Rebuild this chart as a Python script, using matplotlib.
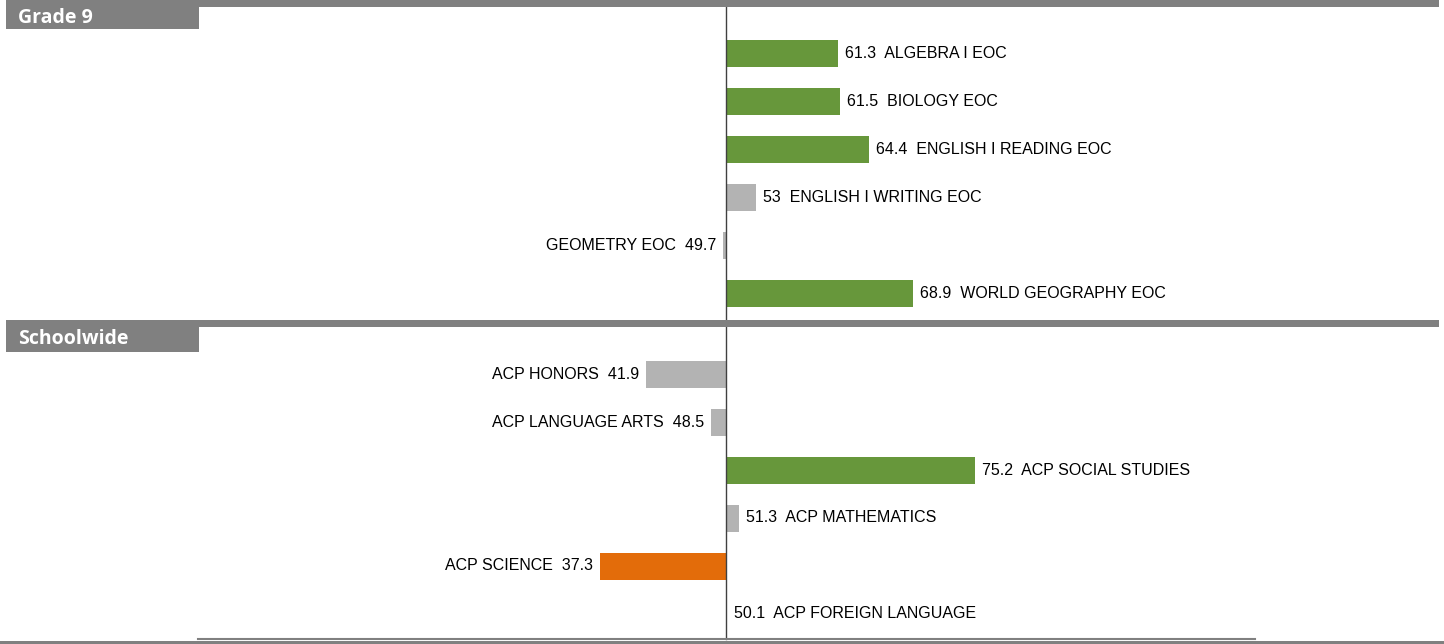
import matplotlib.pyplot as plt
from matplotlib.patches import Rectangle

# data
grade9_labels = ["ALGEBRA I EOC", "BIOLOGY EOC", "ENGLISH I READING EOC",
                 "ENGLISH I WRITING EOC", "GEOMETRY EOC", "WORLD GEOGRAPHY EOC"]
grade9_values = [61.3, 61.5, 64.4, 53, 49.7, 68.9]
grade9_colors = ["#67973b", "#67973b", "#67973b", "#b3b3b3", "#b3b3b3", "#67973b"]

school_labels = ["ACP HONORS", "ACP LANGUAGE ARTS", "ACP SOCIAL STUDIES",
                 "ACP MATHEMATICS", "ACP SCIENCE", "ACP FOREIGN LANGUAGE"]
school_values = [41.9, 48.5, 75.2, 51.3, 37.3, 50.1]
school_colors = ["#b3b3b3", "#b3b3b3", "#67973b", "#b3b3b3", "#e36c0a", "#b3b3b3"]

center = 50
W, H = 1444, 644
fig = plt.figure(figsize=(W / 100, H / 100), dpi=100)
plt.rcParams['font.family'] = ['Liberation Sans', 'DejaVu Sans']

# axes spans from x=198 to 1255 px, full height in px units for rows
ax = fig.add_axes([198 / W, 0, (1255 - 198) / W, 1])
px = 9.9  # pixels per unit
ax.set_xlim(center - (726 - 198) / px, center + (1255 - 726) / px)
ax.set_ylim(H, 0)
ax.axis('off')

rows9 = [53 + 48 * i for i in range(6)]
rows_s = [374 + 48 * i for i in range(6)]
gap = 7 / px


def draw(labels, values, colors, rows):
    for lab, v, c, y in zip(labels, values, colors, rows):
        ax.barh(y, v - center, left=center, height=27, color=c)
        val = f"{v:g}"
        if v >= center:
            ax.text(v + gap, y, f"{val}  {lab}", ha='left', va='center',
                    fontsize=11.5, color='black')
        else:
            ax.text(v - gap, y, f"{lab}  {val}", ha='right', va='center',
                    fontsize=11.5, color='black')


draw(grade9_labels, grade9_values, grade9_colors, rows9)
draw(school_labels, school_values, school_colors, rows_s)

# center line
ax.plot([center, center], [7, 639], color='#404040', lw=1)
# bottom thin line
ax.plot(ax.get_xlim(), [639, 639], color='#808080', lw=1.5, clip_on=False)

gray = '#808080'


def band(y0, y1, x0=6, x1=1439):
    fig.add_artist(Rectangle((x0 / W, 1 - y1 / H), (x1 - x0) / W, (y1 - y0) / H,
                             transform=fig.transFigure, color=gray, lw=0))


# section headers
band(0, 7)
band(0, 29, 6, 199)
fig.text(18 / W, 1 - 18 / H, "Grade 9", color='white', fontsize=14,
         fontweight='bold', family='Open Sans', va='center', ha='left')
band(320, 327)
band(320, 352, 6, 199)
fig.text(18 / W, 1 - 339 / H, "Schoolwide", color='white', fontsize=14,
         fontweight='bold', family='Open Sans', va='center', ha='left')
band(641, 644, 0, 1444)

fig.savefig('out.png', dpi=100)
